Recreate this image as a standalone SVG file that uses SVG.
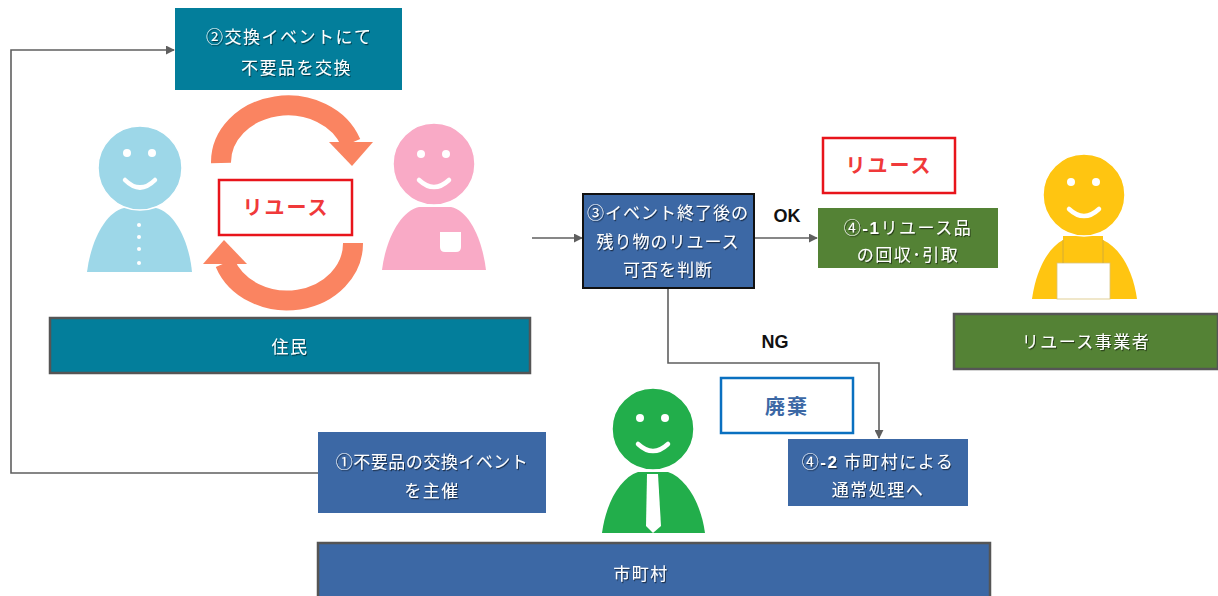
<svg xmlns="http://www.w3.org/2000/svg" width="1218" height="596" viewBox="0 0 1218 596">
  <style>
    .jp { font-family: "Noto Sans CJK JP", "Noto Sans", sans-serif; }
    .wt { fill: #ffffff; font-size: 17px; letter-spacing: 1.5px; filter: url(#tshadow); }
    .teal { fill: #037E9B; }
    .blue { fill: #3C68A5; }
    .green { fill: #548235; }
    .bar { stroke: #555555; stroke-width: 2.5; }
    .conn { fill: none; stroke: #5f5f5f; stroke-width: 1.6; }
    .lbl { font-family: "Liberation Sans", Arial, sans-serif; font-weight: bold; font-size: 18px; fill: #111; }
    .reuse { fill: #ffffff; stroke: #E8141B; stroke-width: 2.5; }
    .reuseT { fill: #F0393A; font-size: 20px; font-weight: bold; letter-spacing: 2px; }
    .orange { fill: none; stroke: #FA8461; stroke-width: 20; }
    .orangeF { fill: #FA8461; }
    .face { fill: #ffffff; }
    .smile { fill: none; stroke: #ffffff; stroke-width: 4.5; stroke-linecap: round; }
  </style>
  <defs>
    <filter id="tshadow" x="-10%" y="-30%" width="120%" height="160%">
      <feDropShadow dx="1" dy="1.2" stdDeviation="0.7" flood-color="#000" flood-opacity="0.55"/>
    </filter>
    <marker id="arrL" viewBox="0 0 10 10" refX="9" refY="5" markerWidth="9" markerHeight="9" markerUnits="userSpaceOnUse" orient="auto">
      <path d="M0,0 L10,5 L0,10 Z" fill="#5f5f5f"/>
    </marker>
  </defs>

  <rect width="1218" height="596" fill="#ffffff"/>

  <!-- connectors -->
  <g id="connectors">
    <path class="conn" d="M318,473 H11 V50 H174" marker-end="url(#arrL)"/>
    <path class="conn" d="M532,238 H582" marker-end="url(#arrL)"/>
    <path class="conn" d="M754,238 H817" marker-end="url(#arrL)"/>
    <path class="conn" d="M668,288 V363 H879 V438" marker-end="url(#arrL)"/>
    <text class="lbl" x="787" y="222" text-anchor="middle">OK</text>
    <text class="lbl" x="775" y="348" text-anchor="middle">NG</text>
  </g>

  <!-- exchange cycle between residents -->
  <g id="cycle">
    <path class="orange" d="M221,163 A67,57 0 0 1 351,143"/>
    <polygon class="orangeF" points="329,142 373,142 352,166"/>
    <path class="orange" d="M353,243 A66,57 0 0 1 225,263"/>
    <polygon class="orangeF" points="203,264 247,264 224,240"/>
    <rect class="reuse" x="219" y="180" width="133" height="55"/>
    <text class="jp reuseT" x="286" y="215" text-anchor="middle">リユース</text>
  </g>

  <g id="step2">
    <rect class="teal" x="175" y="8" width="227" height="82"/>
    <text class="jp wt" x="206" y="43">②交換イベントにて</text>
    <text class="jp wt" x="241" y="74">不要品を交換</text>
  </g>

  <!-- resident (light blue) -->
  <g id="resident-a">
    <path d="M87,272 C91,240 106,212 124,208 L156,208 C174,212 189,240 192,272 Z" fill="#9DD7E8"/>
    <circle cx="140" cy="168" r="42" fill="#9DD7E8" stroke="#ffffff" stroke-width="1.5"/>
    <circle class="face" cx="127" cy="153" r="4"/>
    <circle class="face" cx="152" cy="153" r="4"/>
    <path class="smile" d="M125,180 Q140,195 155,180"/>
    <circle class="face" cx="139" cy="225" r="2"/>
    <circle class="face" cx="139" cy="237" r="2"/>
    <circle class="face" cx="139" cy="249" r="2"/>
    <circle class="face" cx="139" cy="263" r="2"/>
  </g>

  <!-- resident (pink) -->
  <g id="resident-b">
    <path d="M382,270 C386,238 401,211 419,207 L451,207 C469,211 482,238 486,270 Z" fill="#F9AAC6"/>
    <circle cx="434" cy="164" r="41" fill="#F9AAC6" stroke="#ffffff" stroke-width="1.5"/>
    <circle class="face" cx="421" cy="154" r="4"/>
    <circle class="face" cx="446" cy="154" r="4"/>
    <path class="smile" d="M419,180 Q434,194 449,180"/>
    <path d="M440,232 H461 V247 Q461,252 456,252 H445 Q440,252 440,247 Z" fill="#ffffff"/>
  </g>

  <g id="residents-bar">
    <rect class="teal bar" x="50" y="318" width="480" height="55"/>
    <text class="jp wt" x="290" y="353" text-anchor="middle">住民</text>
  </g>

  <g id="step3">
    <rect class="blue" x="583" y="194" width="171" height="94" stroke="#111" stroke-width="2"/>
    <text class="jp wt" x="668" y="219" text-anchor="middle" style="letter-spacing:1px">③イベント終了後の</text>
    <text class="jp wt" x="668" y="248" text-anchor="middle" style="letter-spacing:1px">残り物のリユース</text>
    <text class="jp wt" x="668" y="276" text-anchor="middle" style="letter-spacing:1px">可否を判断</text>
  </g>

  <g id="reuse-label">
    <rect class="reuse" x="823" y="138" width="132" height="55"/>
    <text class="jp reuseT" x="889" y="173" text-anchor="middle">リユース</text>
  </g>

  <g id="step4-1">
    <rect class="green" x="818" y="208" width="180" height="60"/>
    <text class="jp wt" x="908" y="234" text-anchor="middle">④<tspan font-family="Liberation Sans, Arial, sans-serif" font-weight="bold">-1</tspan>リユース品</text>
    <text class="jp wt" x="908" y="261" text-anchor="middle">の回収･引取</text>
  </g>

  <!-- reuse business (yellow) -->
  <g id="reuse-business">
    <path d="M1032,299 C1036,270 1048,248 1063,240 L1103,240 C1120,248 1133,270 1137,299 Z" fill="#FFC511"/>
    <rect x="1063" y="236" width="40" height="30" fill="#FFC511"/>
    <rect x="1057" y="263" width="53" height="36" fill="#ffffff" stroke="#d9c37a" stroke-width="0.8"/>
    <path d="M1063,240 V263 M1103,240 V263" stroke="#c9a640" stroke-width="0.8"/>
    <circle cx="1084" cy="195" r="41" fill="#FFC511" stroke="#ffffff" stroke-width="1.5"/>
    <circle class="face" cx="1071" cy="182" r="4"/>
    <circle class="face" cx="1096" cy="182" r="4"/>
    <path class="smile" d="M1069,209 Q1084,223 1099,209"/>
  </g>

  <g id="business-bar">
    <rect class="green bar" x="954" y="314" width="264" height="55"/>
    <text class="jp wt" x="1086" y="348" text-anchor="middle">リユース事業者</text>
  </g>

  <g id="step1">
    <rect class="blue" x="318" y="432" width="228" height="81"/>
    <text class="jp wt" x="432" y="468" text-anchor="middle" style="letter-spacing:0.5px">①不要品の交換イベント</text>
    <text class="jp wt" x="432" y="497" text-anchor="middle">を主催</text>
  </g>

  <g id="disposal-label">
    <rect x="721" y="378" width="132" height="55" fill="#ffffff" stroke="#0A70C0" stroke-width="2.5"/>
    <text class="jp" x="787" y="414" text-anchor="middle" fill="#3C68A5" font-size="20" font-weight="bold" letter-spacing="2">廃棄</text>
  </g>

  <g id="step4-2">
    <rect class="blue" x="788" y="439" width="180" height="67"/>
    <text class="jp wt" x="878" y="468" text-anchor="middle">④<tspan font-family="Liberation Sans, Arial, sans-serif" font-weight="bold">-2</tspan> 市町村による</text>
    <text class="jp wt" x="878" y="496" text-anchor="middle">通常処理へ</text>
  </g>

  <!-- municipality staff (green) -->
  <g id="municipal-staff">
    <path d="M602,533 C606,503 620,478 638,472 L668,472 C686,478 701,503 705,533 Z" fill="#22AE4B"/>
    <circle cx="653" cy="429" r="41" fill="#22AE4B" stroke="#ffffff" stroke-width="1.5"/>
    <circle class="face" cx="640" cy="418" r="4"/>
    <circle class="face" cx="665" cy="418" r="4"/>
    <path class="smile" d="M638,444 Q653,458 668,444"/>
    <path d="M647,474 H658 L661,526 L653,533 L646,526 Z" fill="#ffffff"/>
  </g>

  <g id="municipality-bar">
    <rect class="blue bar" x="318" y="543" width="672" height="60"/>
    <text class="jp wt" x="641" y="580" text-anchor="middle">市町村</text>
  </g>
</svg>
